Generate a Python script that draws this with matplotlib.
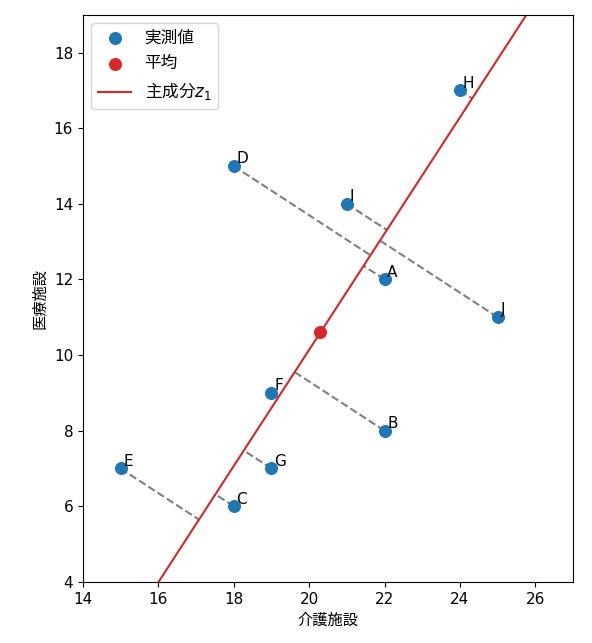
import numpy as np
import matplotlib
matplotlib.use("Agg")
import matplotlib.pyplot as plt

plt.rcParams['font.family'] = ['DejaVu Sans', 'Noto Sans CJK JP']

labels = ['A', 'B', 'C', 'D', 'E', 'F', 'G', 'H', 'I', 'J']
kaigo = np.array([22, 22, 18, 18, 15, 19, 19, 24, 21, 25], dtype=float)
iryo = np.array([12, 8, 6, 15, 7, 9, 7, 17, 14, 11], dtype=float)

X = np.column_stack([kaigo, iryo])
mean = X.mean(axis=0)
cov = np.cov((X - mean).T)
w, v = np.linalg.eigh(cov)
pc = v[:, np.argmax(w)]
if pc[0] < 0:
    pc = -pc

fig = plt.figure(figsize=(5.92, 6.43), dpi=100)
ax = fig.add_axes([0.140, 0.095, 0.828, 0.882])

# projections
t = (X - mean) @ pc
proj = mean + np.outer(t, pc)
for (x0, y0), (x1, y1) in zip(X, proj):
    ax.plot([x0, x1], [y0, y1], linestyle='--', color='gray', linewidth=1.5, zorder=1)

# principal component line
tt = np.linspace(-20, 20, 2)
ax.plot(mean[0] + tt * pc[0], mean[1] + tt * pc[1], color='tab:red', linewidth=1.5,
        label='主成分$z_1$', zorder=2)

ax.scatter(kaigo, iryo, s=70, color='tab:blue', label='実測値', zorder=3)
ax.scatter([mean[0]], [mean[1]], s=70, color='tab:red', label='平均', zorder=4)

for lab, x, y in zip(labels, kaigo, iryo):
    ax.annotate(lab, (x, y), xytext=(2, 2), textcoords='offset points', fontsize=11)

ax.set_xlim(14, 27)
ax.set_ylim(4, 19)
ax.set_xticks(np.arange(14, 27, 2))
ax.set_yticks(np.arange(4, 19, 2))
ax.tick_params(labelsize=11)
ax.set_xlabel('介護施設', fontsize=11, family=['Noto Sans CJK JP', 'DejaVu Sans'])
ax.set_ylabel('医療施設', fontsize=11, family=['Noto Sans CJK JP', 'DejaVu Sans'])

h, l = ax.get_legend_handles_labels()
order = [l.index('実測値'), l.index('平均'), l.index('主成分$z_1$')]
ax.legend([h[i] for i in order], [l[i] for i in order], loc='upper left',
          prop={'family': ['Noto Sans CJK JP', 'DejaVu Sans'], 'size': 12})

fig.savefig('out.png', dpi=100)
